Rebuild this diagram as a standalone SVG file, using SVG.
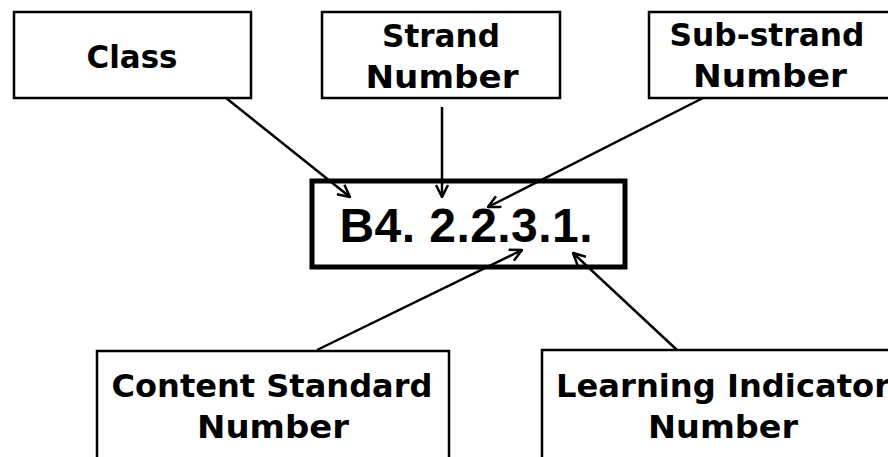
<svg xmlns="http://www.w3.org/2000/svg" width="888" height="457" viewBox="0 0 888 457">
<defs>
<style>
.box{fill:#fff;stroke:#000;stroke-width:2.5}
.main{fill:#fff;stroke:#000;stroke-width:5}
.t{font-family:"DejaVu Sans","Liberation Sans",sans-serif;font-weight:700;font-size:32px;fill:#000;text-anchor:middle}
.big{font-family:"Liberation Sans","DejaVu Sans",sans-serif;font-size:48px}
.c{stroke:#000;stroke-width:2.5;fill:none}
</style>
<marker id="ah" viewBox="0 0 14 14" refX="13" refY="7" markerWidth="14" markerHeight="14" markerUnits="userSpaceOnUse" orient="auto">
<path d="M1,1 L13,7 L1,13" fill="none" stroke="#000" stroke-width="2.5"/>
</marker>
</defs>
<rect width="888" height="457" fill="#fff"/>
<g id="class"><rect class="box" x="14" y="12" width="237" height="86"/><text class="t" x="132" y="68" textLength="91" lengthAdjust="spacingAndGlyphs">Class</text></g>
<g id="strand"><rect class="box" x="322" y="12" width="238" height="86"/><text class="t" x="441" y="47" textLength="118" lengthAdjust="spacingAndGlyphs">Strand</text><text class="t" x="442" y="88" textLength="153" lengthAdjust="spacingAndGlyphs">Number</text></g>
<g id="substrand"><rect class="box" x="649" y="12" width="245" height="86"/><text class="t" x="767" y="46" textLength="195" lengthAdjust="spacingAndGlyphs">Sub-strand</text><text class="t" x="770" y="87" textLength="154" lengthAdjust="spacingAndGlyphs">Number</text></g>
<g id="code"><rect class="main" x="312" y="181" width="313" height="86"/><text class="t big" x="466" y="242" textLength="253" lengthAdjust="spacing">B4. 2.2.3.1.</text></g>
<g id="content"><rect class="box" x="97" y="351" width="352" height="120"/><text class="t" x="272" y="397" textLength="321" lengthAdjust="spacingAndGlyphs">Content Standard</text><text class="t" x="273" y="438" textLength="152" lengthAdjust="spacingAndGlyphs">Number</text></g>
<g id="learning"><rect class="box" x="542" y="350" width="362" height="120"/><text class="t" x="723" y="397" textLength="334" lengthAdjust="spacingAndGlyphs">Learning Indicator</text><text class="t" x="723" y="438" textLength="150" lengthAdjust="spacingAndGlyphs">Number</text></g>
<g id="connectors">
<line class="c" x1="226" y1="98" x2="350" y2="197" marker-end="url(#ah)"/>
<line class="c" x1="442" y1="107" x2="442" y2="197" marker-end="url(#ah)"/>
<line class="c" x1="703" y1="98" x2="488" y2="207" marker-end="url(#ah)"/>
<line class="c" x1="317" y1="350" x2="522" y2="250" marker-end="url(#ah)"/>
<line class="c" x1="677" y1="350" x2="573" y2="253" marker-end="url(#ah)"/>
</g>
</svg>
